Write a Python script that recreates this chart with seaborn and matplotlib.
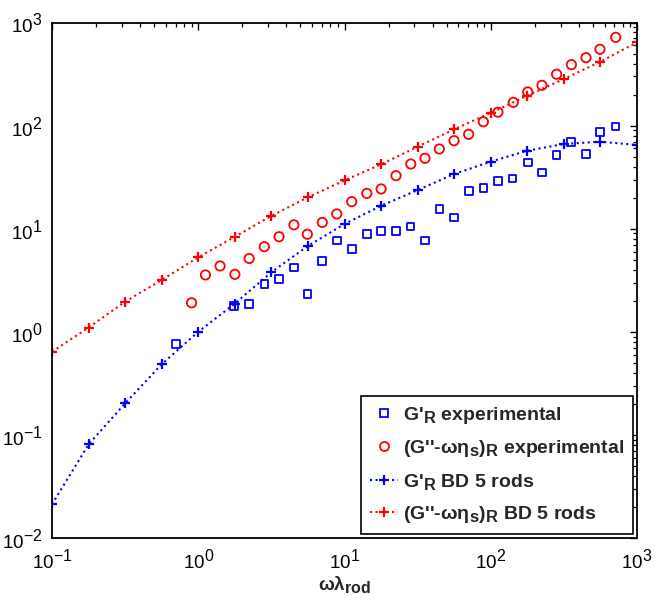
import numpy as np
import pandas as pd
import matplotlib
matplotlib.use("Agg")
import matplotlib.pyplot as plt
from matplotlib.lines import Line2D
import seaborn as sns
try:
    import matplotlib._mathtext as _mt
    _mt.SHRINK_FACTOR = 0.85
except Exception:
    pass

# BD simulation (5 rods)
bd_x = [0.1, 0.178, 0.316, 0.562, 1.0, 1.78, 3.16, 5.62, 10.0, 17.8, 31.6, 56.2, 100.0, 178.0, 316.0, 562.0, 1000.0]
bd_gp = [0.0212, 0.081, 0.202, 0.484, 1.0, 1.88, 3.78, 6.8, 11.1, 16.7, 23.7, 33.9, 44.7, 57.1, 66.3, 69.8, 64.9]
bd_gpp = [0.64, 1.10, 1.96, 3.18, 5.28, 8.36, 13.3, 20.2, 29.4, 42.1, 62.4, 92.0, 133.0, 195.0, 283.0, 417.0, 643.0]

# Experimental G'_R
exp_gp_x = [0.705, 1.76, 2.23, 2.83, 3.57, 4.51, 5.57, 7.05, 8.85, 11.2, 14.2, 17.8, 22.4, 28.3,
            35.5, 44.5, 56.1, 70.8, 89.0, 112.0, 141.0, 179.0, 224.0, 282.0, 355.0, 447.0, 558.0, 715.0]
exp_gp_y = [0.757, 1.78, 1.86, 2.91, 3.23, 4.22, 2.33, 4.83, 7.65, 6.35, 8.83, 9.5, 9.56, 10.5,
            7.65, 15.5, 12.8, 23.2, 24.7, 29.0, 30.8, 44.0, 35.2, 51.9, 69.8, 53.0, 86.1, 97.6]

# Experimental (G''-omega eta_s)_R
exp_gpp_x = [0.90, 1.12, 1.41, 1.78, 2.23, 2.83, 3.57, 4.51, 5.57, 7.05, 8.85, 11.2, 14.2, 17.8, 22.5,
             28.4, 35.5, 44.5, 56.1, 70.6, 89.0, 112.0, 142.6, 179.0, 224.0, 282.0, 356.0, 448.0, 558.0, 715.0]
exp_gpp_y = [1.91, 3.56, 4.35, 3.61, 5.14, 6.69, 8.36, 10.9, 8.83, 11.5, 13.9, 18.3, 22.0, 24.3, 32.7,
             42.4, 48.2, 59.3, 71.4, 82.3, 109.0, 135.0, 168.0, 212.0, 246.0, 315.0, 390.0, 456.0, 550.0, 718.0]

labels = ["G'$_{\\mathbf{R}}$ experimental",
          "(G''-ωη$_{\\mathbf{s}}$)$_{\\mathbf{R}}$ experimental",
          "G'$_{\\mathbf{R}}$ BD 5 rods",
          "(G''-ωη$_{\\mathbf{s}}$)$_{\\mathbf{R}}$ BD 5 rods"]

sns.set_style("white")
plt.rcParams['font.family'] = ['Liberation Sans', 'DejaVu Sans']
plt.rcParams['mathtext.fontset'] = 'custom'
plt.rcParams['mathtext.rm'] = 'Liberation Sans'
plt.rcParams['mathtext.bf'] = 'Liberation Sans:bold'
plt.rcParams['mathtext.it'] = 'Liberation Sans:italic'

fig = plt.figure(figsize=(6.72, 6.03), dpi=100)
ax = fig.add_axes([52/672, 1-538/603, (637-52)/672, (538-22.5)/603])

BLUE = (0, 0, 1)
RED = (1, 0, 0)

sns.scatterplot(x=exp_gp_x, y=exp_gp_y, marker='s', s=30, facecolor='none',
                edgecolor=BLUE, linewidth=1.3, ax=ax, zorder=3)
sns.scatterplot(x=exp_gpp_x, y=exp_gpp_y, marker='o', s=45, facecolor='none',
                edgecolor=RED, linewidth=1.3, ax=ax, zorder=3)
sns.lineplot(x=bd_x, y=bd_gp, color=BLUE, linestyle=':', linewidth=1.5, marker='+',
             markersize=7, markeredgewidth=1.6, markeredgecolor=BLUE, ax=ax, zorder=2)
sns.lineplot(x=bd_x, y=bd_gpp, color=RED, linestyle=':', linewidth=1.5, marker='+',
             markersize=7, markeredgewidth=1.6, markeredgecolor=RED, ax=ax, zorder=2)

ax.set_xscale('log')
ax.set_yscale('log')
ax.set_xlim(0.1, 1000)
ax.set_ylim(0.01, 1000)

for sp in ax.spines.values():
    sp.set_color('black')
    sp.set_linewidth(1.3)

ax.tick_params(which='both', direction='in', top=True, right=True, colors='black')
ax.tick_params(which='major', length=5, width=1.0, labelsize=13.5, pad=7)
ax.tick_params(which='minor', length=3, width=0.9)
ax.xaxis.set_minor_locator(matplotlib.ticker.LogLocator(base=10, subs=np.arange(2, 10), numticks=20))
ax.yaxis.set_minor_locator(matplotlib.ticker.LogLocator(base=10, subs=np.arange(2, 10), numticks=20))
ax.xaxis.set_minor_formatter(matplotlib.ticker.NullFormatter())
ax.yaxis.set_minor_formatter(matplotlib.ticker.NullFormatter())
ax.grid(False)

ax.set_xlabel("ωλ$_{\\mathbf{rod}}$", fontsize=13.5, fontweight='bold', labelpad=2)
ax.set_ylabel("")

handles = [
    Line2D([], [], linestyle='none', marker='s', markersize=5.5, markerfacecolor='none',
           markeredgecolor=BLUE, markeredgewidth=1.3),
    Line2D([], [], linestyle='none', marker='o', markersize=6.5, markerfacecolor='none',
           markeredgecolor=RED, markeredgewidth=1.3),
    Line2D([], [], linestyle=':', color=BLUE, linewidth=1.5, marker='+', markersize=7,
           markeredgewidth=1.6),
    Line2D([], [], linestyle=':', color=RED, linewidth=1.5, marker='+', markersize=7,
           markeredgewidth=1.6),
]
leg = ax.legend(handles, labels, loc='lower right', bbox_to_anchor=(0.993, 0.008),
                borderaxespad=0, frameon=True, fancybox=False, framealpha=1,
                edgecolor='black', prop={'weight': 'bold', 'size': 14},
                handlelength=1.45, handletextpad=0.25, labelspacing=0.64,
                borderpad=0.45, numpoints=1)
leg.get_frame().set_linewidth(1.2)

fig.savefig("out.png", dpi=100)
